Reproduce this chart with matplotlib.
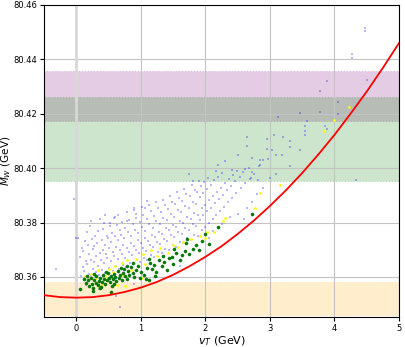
import matplotlib
matplotlib.use("Agg")
import matplotlib.pyplot as plt

# ----- bands (MW ranges) -----
orange_band = (80.3462, 80.3580)
green_band = (80.3951, 80.4260)
purple_band = (80.4175, 80.4358)

# ----- red curve -----
curve_vT = [-0.5, -0.25, 0.0, 0.25, 0.5, 0.75, 1.0, 1.25, 1.5, 1.75, 2.0, 2.25,
            2.5, 2.75, 3.0, 3.25, 3.5, 3.75, 4.0, 4.25, 4.5, 4.75, 5.0]
curve_mW = [80.3533, 80.3526, 80.3524, 80.3526, 80.3533, 80.3545, 80.3561, 80.3582,
            80.3608, 80.3639, 80.3674, 80.3713, 80.3758, 80.3807, 80.3861, 80.3919,
            80.3982, 80.4050, 80.4122, 80.4200, 80.4281, 80.4368, 80.4459]

# ----- light blue scan points -----
blue_pts = [
    (0.07, 80.3605), (0.10, 80.3638), (0.06, 80.3672), (0.09, 80.3705),
    (0.14, 80.3592), (0.12, 80.3621), (0.15, 80.3657), (0.11, 80.3694), (0.13, 80.3731),
    (0.19, 80.3612), (0.17, 80.3648), (0.20, 80.3683), (0.18, 80.3719), (0.16, 80.3766),
    (0.23, 80.3603), (0.25, 80.3629), (0.22, 80.3661), (0.26, 80.3702), (0.24, 80.3741), (0.21, 80.3788),
    (0.30, 80.3618), (0.28, 80.3655), (0.31, 80.3677), (0.27, 80.3713), (0.29, 80.3752),
    (0.35, 80.3609), (0.33, 80.3641), (0.36, 80.3688), (0.32, 80.3724), (0.34, 80.3769), (0.37, 80.3812),
    (0.40, 80.3627), (0.38, 80.3662), (0.41, 80.3699), (0.39, 80.3735), (0.42, 80.3778),
    (0.45, 80.3614), (0.43, 80.3651), (0.46, 80.3683), (0.44, 80.3716), (0.47, 80.3751), (0.43, 80.3797),
    (0.50, 80.3632), (0.48, 80.3669), (0.51, 80.3705), (0.49, 80.3744), (0.52, 80.3786),
    (0.56, 80.3621), (0.54, 80.3658), (0.57, 80.3692), (0.53, 80.3728), (0.55, 80.3763), (0.58, 80.3815),
    (0.61, 80.3640), (0.59, 80.3677), (0.62, 80.3711), (0.60, 80.3749), (0.63, 80.3792),
    (0.66, 80.3629), (0.64, 80.3665), (0.67, 80.3698), (0.65, 80.3737), (0.68, 80.3771), (0.64, 80.3829),
    (0.72, 80.3645), (0.70, 80.3684), (0.73, 80.3719), (0.69, 80.3756), (0.71, 80.3803),
    (0.77, 80.3636), (0.75, 80.3671), (0.78, 80.3707), (0.74, 80.3742), (0.76, 80.3781), (0.79, 80.3838),
    (0.83, 80.3653), (0.81, 80.3690), (0.84, 80.3726), (0.80, 80.3767), (0.82, 80.3809),
    (0.88, 80.3647), (0.86, 80.3681), (0.89, 80.3713), (0.85, 80.3752), (0.87, 80.3794), (0.90, 80.3847),
    (0.94, 80.3662), (0.92, 80.3699), (0.95, 80.3735), (0.91, 80.3774), (0.93, 80.3818),
    (0.99, 80.3655), (0.97, 80.3688), (1.00, 80.3724), (0.96, 80.3761), (0.98, 80.3801), (1.01, 80.3859),
    (1.05, 80.3671), (1.03, 80.3707), (1.06, 80.3744), (1.02, 80.3785), (1.04, 80.3829),
    (1.10, 80.3664), (1.08, 80.3696), (1.11, 80.3733), (1.07, 80.3769), (1.09, 80.3812), (1.12, 80.3866),
    (1.16, 80.3682), (1.14, 80.3718), (1.17, 80.3755), (1.13, 80.3794), (1.15, 80.3841),
    (1.21, 80.3675), (1.19, 80.3709), (1.22, 80.3746), (1.18, 80.3781), (1.20, 80.3823), (1.23, 80.3877),
    (1.27, 80.3693), (1.25, 80.3729), (1.28, 80.3766), (1.24, 80.3805), (1.26, 80.3852),
    (1.32, 80.3687), (1.30, 80.3721), (1.33, 80.3758), (1.29, 80.3796), (1.31, 80.3838), (1.34, 80.3884),
    (1.38, 80.3704), (1.36, 80.3741), (1.39, 80.3779), (1.35, 80.3818), (1.37, 80.3863),
    (1.43, 80.3699), (1.41, 80.3733), (1.44, 80.3771), (1.40, 80.3809), (1.42, 80.3851), (1.45, 80.3898),
    (1.49, 80.3716), (1.47, 80.3754), (1.50, 80.3792), (1.46, 80.3833), (1.48, 80.3874),
    (1.54, 80.3711), (1.52, 80.3746), (1.55, 80.3784), (1.51, 80.3822), (1.53, 80.3867), (1.56, 80.3912),
    (1.60, 80.3729), (1.58, 80.3767), (1.61, 80.3806), (1.57, 80.3846), (1.59, 80.3889),
    (1.65, 80.3724), (1.63, 80.3759), (1.66, 80.3797), (1.62, 80.3838), (1.64, 80.3881), (1.67, 80.3925),
    (1.71, 80.3742), (1.69, 80.3781), (1.72, 80.3821), (1.68, 80.3862), (1.70, 80.3904),
    (1.77, 80.3737), (1.75, 80.3773), (1.78, 80.3812), (1.74, 80.3853), (1.76, 80.3896), (1.79, 80.3939),
    (1.82, 80.3756), (1.80, 80.3795), (1.83, 80.3836), (1.81, 80.3877), (1.84, 80.3918),
    (1.88, 80.3751), (1.86, 80.3788), (1.89, 80.3829), (1.85, 80.3869), (1.87, 80.3911), (1.90, 80.3952),
    (1.94, 80.3771), (1.92, 80.3811), (1.95, 80.3852), (1.91, 80.3893), (1.93, 80.3934),
    (1.99, 80.3784), (1.97, 80.3826), (2.00, 80.3866), (1.96, 80.3908), (1.98, 80.3948),
    (2.05, 80.3799), (2.03, 80.3841), (2.06, 80.3882), (2.02, 80.3924), (2.04, 80.3963),
    (2.11, 80.3812), (2.09, 80.3855), (2.12, 80.3897), (2.08, 80.3938),
    (2.17, 80.3828), (2.15, 80.3871), (2.18, 80.3913), (2.14, 80.3955), (2.16, 80.3991),
    (2.23, 80.3843), (2.21, 80.3886), (2.24, 80.3928), (2.20, 80.3969),
    (2.29, 80.3859), (2.27, 80.3902), (2.30, 80.3944), (2.26, 80.3982),
    (2.35, 80.3876), (2.33, 80.3918), (2.36, 80.3959),
    (2.41, 80.3892), (2.39, 80.3934), (2.42, 80.3975),
    (2.48, 80.3909), (2.46, 80.3951), (2.49, 80.3990),
    (2.55, 80.3926), (2.53, 80.3968), (2.61, 80.3944), (2.59, 80.3985),
    (2.69, 80.3961), (2.67, 80.4002), (2.76, 80.3979), (2.85, 80.4012),
    (2.05, 80.3745), (2.12, 80.3768), (2.25, 80.3795), (2.38, 80.3822), (2.50, 80.3831),
    (2.60, 80.3812), (2.65, 80.3852), (2.72, 80.3874), (2.80, 80.3905), (2.90, 80.3928),
    (3.00, 80.3962), (3.10, 80.3980),
    (-0.31, 80.3630), (-0.03, 80.3887), (0.02, 80.3743), (0.68, 80.3490), (0.62, 80.3530),
    (0.45, 80.3826), (0.60, 80.3821), (0.90, 80.3854), (1.09, 80.3881), (0.93, 80.3832),
    (1.06, 80.3854), (0.23, 80.3804), (0.52, 80.3800), (0.79, 80.3807), (0.00, 80.3744),
    (1.75, 80.3979), (1.80, 80.3953), (2.20, 80.4012), (2.30, 80.4027), (2.41, 80.3994),
    (2.62, 80.3997), (2.73, 80.3987), (2.70, 80.3964), (2.81, 80.3957), (2.50, 80.4049),
    (2.64, 80.4080), (2.64, 80.4116), (2.72, 80.4038), (2.84, 80.4030), (2.89, 80.4030),
    (2.97, 80.4034), (2.83, 80.4008), (2.95, 80.4108), (2.95, 80.4071), (3.03, 80.4067),
    (3.07, 80.4123), (3.10, 80.4049), (3.18, 80.4049), (3.12, 80.4189), (3.20, 80.4113),
    (3.31, 80.4098), (3.31, 80.4078), (3.31, 80.4006), (3.46, 80.4204), (3.46, 80.4067),
    (3.54, 80.4153), (3.54, 80.4135), (3.54, 80.4123), (3.57, 80.4172), (3.77, 80.4284),
    (3.77, 80.4205), (3.85, 80.4153), (3.88, 80.4145), (3.88, 80.4319), (4.05, 80.4244),
    (4.05, 80.4200), (4.27, 80.4420), (4.27, 80.4406), (4.47, 80.4516), (4.47, 80.4503),
    (4.50, 80.4323), (4.33, 80.3957), (0.15, 80.3570), (0.35, 80.3555), (0.90, 80.3575),
    (1.25, 80.3600), (1.60, 80.3640),
]
blue_vT = [p[0] for p in blue_pts]
blue_mW = [p[1] for p in blue_pts]

# ----- green points -----
green_vT = [0.05, 0.12, 0.15, 0.18, 0.20, 0.22, 0.24, 0.26, 0.28, 0.30, 0.31, 0.33, 0.35,
            0.37, 0.38, 0.40, 0.42, 0.43, 0.45, 0.47, 0.49, 0.50, 0.52, 0.54, 0.55, 0.57,
            0.59, 0.60, 0.62, 0.64, 0.66, 0.68, 0.70, 0.72, 0.74, 0.75, 0.78, 0.80, 0.82,
            0.85, 0.87, 0.90, 0.93, 0.96, 1.00, 1.05, 1.08, 1.10, 1.14, 1.17, 1.20, 1.24,
            1.28, 1.32, 1.36, 1.40, 1.44, 1.48, 1.50, 1.55, 1.60, 1.63, 1.68, 1.70, 1.75,
            1.80, 1.85, 1.90, 1.95, 2.00, 2.05, 2.19, 2.73, 0.16, 0.27, 0.36, 0.46, 0.58,
            0.69, 0.79, 0.88, 0.98, 1.12, 1.22, 1.34, 1.52, 1.72, 1.13, 0.53, 0.25]
green_mW = [80.3556, 80.3591, 80.3578, 80.3589, 80.3566, 80.3598, 80.3575, 80.3561, 80.3589,
            80.3579, 80.3602, 80.3570, 80.3585, 80.3596, 80.3563, 80.3581, 80.3607, 80.3592,
            80.3574, 80.3588, 80.3613, 80.3598, 80.3583, 80.3604, 80.3567, 80.3592, 80.3612,
            80.3601, 80.3586, 80.3621, 80.3597, 80.3609, 80.3588, 80.3615, 80.3629, 80.3602,
            80.3594, 80.3622, 80.3608, 80.3636, 80.3614, 80.3601, 80.3627, 80.3642, 80.3619,
            80.3608, 80.3591, 80.3634, 80.3651, 80.3628, 80.3644, 80.3617, 80.3662, 80.3639,
            80.3655, 80.3627, 80.3668, 80.3672, 80.3649, 80.3688, 80.3661, 80.3679, 80.3695,
            80.3725, 80.3684, 80.3702, 80.3716, 80.3698, 80.3733, 80.3758, 80.3721, 80.3784,
            80.3833, 80.3604, 80.3612, 80.3559, 80.3619, 80.3575, 80.3633, 80.3641, 80.3652,
            80.3597, 80.3667, 80.3605, 80.3678, 80.3701, 80.3741, 80.3588, 80.3546, 80.3550]

# ----- yellow points -----
yellow_vT = [0.13, 0.20, 0.23, 0.30, 0.34, 0.40, 0.44, 0.50, 0.56, 0.60, 0.63, 0.70, 0.73,
             0.78, 0.85, 0.93, 1.03, 1.06, 1.16, 1.25, 1.30, 1.42, 1.50, 1.58, 1.66, 1.78,
             1.92, 1.99, 2.02, 2.13, 2.28, 2.30, 2.77, 2.84, 3.15, 3.84, 3.99, 4.22, 0.75,
             0.35, 1.02]
yellow_mW = [80.3605, 80.3592, 80.3612, 80.3598, 80.3625, 80.3576, 80.3605, 80.3628, 80.3617,
             80.3639, 80.3572, 80.3651, 80.3609, 80.3661, 80.3624, 80.3666, 80.3683, 80.3648,
             80.3698, 80.3676, 80.3705, 80.3689, 80.3718, 80.3711, 80.3729, 80.3741, 80.3752,
             80.3743, 80.3767, 80.3767, 80.3804, 80.3817, 80.3855, 80.3910, 80.3939, 80.4138,
             80.4178, 80.4226, 80.3567, 80.3562, 80.3598]

fig = plt.figure(figsize=(4.05, 3.47), dpi=100)
ax = fig.add_axes([0.109, 0.0865, 0.876, 0.8995])

ax.axhspan(*orange_band, color="orange", alpha=0.2, ls=":", lw=0.8, zorder=1)
ax.axhspan(*purple_band, color="purple", alpha=0.2, ls=":", lw=0.8, zorder=1)
ax.axhspan(*green_band, color="green", alpha=0.2, ls=":", lw=0.8, zorder=1)

ax.grid(True, color="#c4c4c4", lw=0.8)
for gl in ax.get_xgridlines() + ax.get_ygridlines():
    gl.set_zorder(1.5)
ax.axvline(0, color="#d8d8d8", lw=2.0, zorder=1.6)

ax.scatter(blue_vT, blue_mW, s=3, marker="s", color="blue", alpha=0.28, lw=0, zorder=2)
ax.scatter(yellow_vT, yellow_mW, s=4, color="yellow", lw=0, zorder=3)
ax.scatter(green_vT, green_mW, s=5, color="green", edgecolors="darkgreen", lw=0.3, zorder=4)
ax.plot(curve_vT, curve_mW, color="red", lw=1.3, zorder=5)

ax.set_xlim(-0.5, 5)
ax.set_ylim(80.3453, 80.46)
ax.set_xticks([0, 1, 2, 3, 4, 5])
ax.set_yticks([80.36, 80.38, 80.40, 80.42, 80.44, 80.46])
ax.set_yticklabels(["80.36", "80.38", "80.40", "80.42", "80.44", "80.46"])
ax.tick_params(labelsize=6, length=3, pad=2)
ax.set_xlabel("$v_T$ (GeV)", fontsize=8, labelpad=1)
ax.set_ylabel("$M_W$ (GeV)", fontsize=7.5)
ax.yaxis.set_label_coords(-0.088, 0.5)

fig.savefig("out.png", dpi=100)
